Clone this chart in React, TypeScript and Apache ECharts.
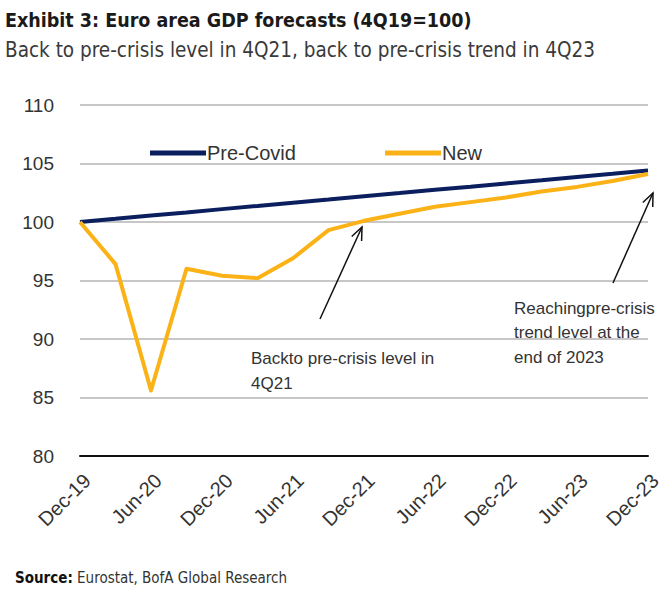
import React, { useEffect, useRef } from "react";
import * as echarts from "echarts";

const categories = [
  "Dec-19", "Mar-20", "Jun-20", "Sep-20", "Dec-20", "Mar-21", "Jun-21", "Sep-21",
  "Dec-21", "Mar-22", "Jun-22", "Sep-22", "Dec-22", "Mar-23", "Jun-23", "Sep-23", "Dec-23",
];
const preCovid = [
  100, 100.27, 100.55, 100.82, 101.1, 101.37, 101.65, 101.92,
  102.2, 102.47, 102.75, 103.02, 103.3, 103.57, 103.85, 104.12, 104.4,
];
const newForecast = [
  100, 96.4, 85.6, 96.0, 95.4, 95.2, 96.9, 99.3,
  100.1, 100.7, 101.3, 101.7, 102.1, 102.6, 103.0, 103.5, 104.1,
];
const yTicks = { min: 80, max: 110, interval: 5 };

const NAVY = "#0b1f5e";
const GOLD = "#fbb217";
const TXT = "#333333";
const FONT = "'Liberation Sans', Arial, sans-serif";
const NARROW = "'Liberation Sans Narrow', 'DejaVu Sans Condensed', 'Liberation Sans', sans-serif";

export default function App() {
  const ref = useRef<HTMLDivElement>(null);
  useEffect(() => {
    if (!ref.current) return;
    const chart = echarts.init(ref.current, null, { renderer: "svg" });
    const arrowHead = (tipX: number, tipY: number, fromX: number, fromY: number) => {
      const ang = Math.atan2(tipY - fromY, tipX - fromX);
      const len = 14;
      const spread = 0.4;
      return {
        type: "polyline",
        shape: {
          points: [
            [tipX - len * Math.cos(ang - spread), tipY - len * Math.sin(ang - spread)],
            [tipX, tipY],
            [tipX - len * Math.cos(ang + spread), tipY - len * Math.sin(ang + spread)],
          ],
        },
        style: { stroke: "#111", lineWidth: 1.5, fill: "none" },
        z: 10,
      };
    };
    chart.setOption({
      animation: false,
      backgroundColor: "#ffffff",
      grid: { left: 80, right: 22, top: 105, bottom: 136, containLabel: false },
      title: [
        {
          text: "Exhibit 3: Euro area GDP forecasts (4Q19=100)",
          left: 0, top: 5,
          textStyle: { fontFamily: NARROW, fontSize: 19.5, fontWeight: "bold", color: "#1a1a1a" },
        },
        {
          text: "Back to pre-crisis level in 4Q21, back to pre-crisis trend in 4Q23",
          left: 0, top: 34,
          textStyle: { fontFamily: NARROW, fontSize: 20.5, fontWeight: "normal", color: "#3a3a3a" },
        },
      ],
      legend: [
        {
          data: ["Pre-Covid"], left: 145, top: 138, icon: "rect", itemWidth: 56, itemHeight: 5, itemGap: 4,
          textStyle: { fontFamily: FONT, fontSize: 20, color: TXT, padding: [0, 0, 0, -4] },
        },
        {
          data: ["New"], left: 380, top: 138, icon: "rect", itemWidth: 56, itemHeight: 5, itemGap: 4,
          textStyle: { fontFamily: FONT, fontSize: 20, color: TXT, padding: [0, 0, 0, -4] },
        },
      ],
      xAxis: {
        type: "category",
        data: categories,
        boundaryGap: false,
        axisLine: { show: true, lineStyle: { color: "#111", width: 2 } },
        axisTick: { show: false },
        axisLabel: {
          interval: 1, rotate: 45, fontFamily: FONT, fontSize: 20, color: TXT, margin: 14,
          verticalAlign: "top",
        },
        splitLine: { show: false },
      },
      yAxis: {
        type: "value",
        min: yTicks.min, max: yTicks.max, interval: yTicks.interval,
        axisLine: { show: false },
        axisTick: { show: false },
        axisLabel: { fontFamily: FONT, fontSize: 19, color: TXT, margin: 26 },
        splitLine: { lineStyle: { color: "#b5b5b5", width: 1.5 } },
      },
      series: [
        {
          name: "Pre-Covid", type: "line", data: preCovid, showSymbol: false, symbol: "none",
          lineStyle: { color: NAVY, width: 4 }, itemStyle: { color: NAVY }, z: 3,
        },
        {
          name: "New", type: "line", data: newForecast, showSymbol: false, symbol: "none",
          lineStyle: { color: GOLD, width: 4, join: "round" }, itemStyle: { color: GOLD }, z: 4,
        },
      ],
      graphic: [
        { type: "line", shape: { x1: 320, y1: 319, x2: 362, y2: 227 }, style: { stroke: "#111", lineWidth: 1.5 }, z: 10 },
        arrowHead(362, 227, 320, 319),
        { type: "line", shape: { x1: 613, y1: 283, x2: 653, y2: 193 }, style: { stroke: "#111", lineWidth: 1.5 }, z: 10 },
        arrowHead(653, 193, 613, 283),
        {
          type: "text", left: 251, top: 346, z: 10,
          style: { text: "Backto pre-crisis level in\n4Q21", fontFamily: FONT, fontSize: 17, lineHeight: 25, fill: TXT },
        },
        {
          type: "text", left: 514, top: 296, z: 10,
          style: { text: "Reachingpre-crisis\ntrend level at the\nend of 2023", fontFamily: FONT, fontSize: 17, lineHeight: 24.5, fill: TXT },
        },
        {
          type: "text", left: 15, top: 570, z: 10,
          style: {
            text: "{b|Source:} Eurostat, BofA Global Research",
            fontFamily: NARROW, fontSize: 15, fill: "#333",
            rich: { b: { fontFamily: NARROW, fontSize: 15, fontWeight: "bold", fill: "#111" } },
          },
        },
      ],
    });
    return () => chart.dispose();
  }, []);
  return <div ref={ref} style={{ width: 670, height: 592, position: "absolute", left: 0, top: 0 }} />;
}
